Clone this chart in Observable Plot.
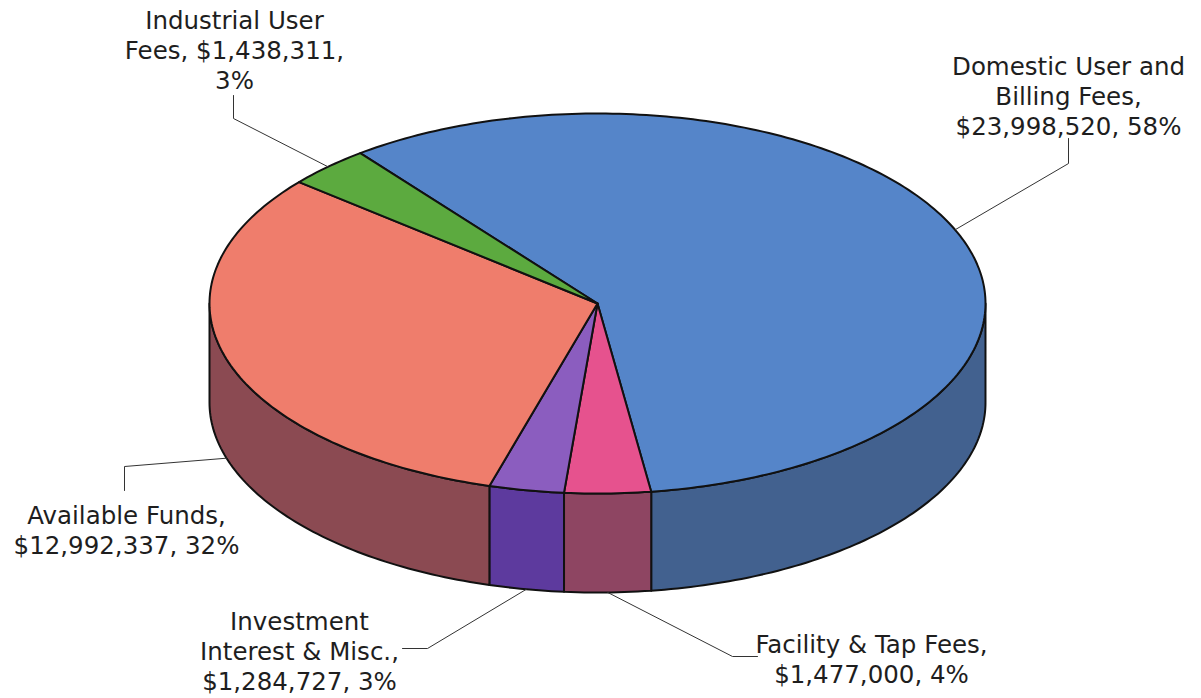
<!DOCTYPE html>
<html>
<head>
<meta charset="utf-8">
<script src="https://cdn.jsdelivr.net/npm/d3@7"></script>
<script src="https://cdn.jsdelivr.net/npm/@observablehq/plot@0.6"></script>
<style>
  html, body { margin: 0; padding: 0; background: #fff; }
  #chart svg { display: block; }
</style>
</head>
<body>
<div id="chart"></div>
<script>
// ---- data ----
const categories = [
  "Domestic User and Billing Fees",
  "Facility & Tap Fees",
  "Investment Interest & Misc.",
  "Available Funds",
  "Industrial User Fees"
];
const values = [23998520, 1477000, 1284727, 12992337, 1438311];
const labelTexts = [
  "Domestic User and\nBilling Fees,\n$23,998,520, 58%",
  "Facility & Tap Fees,\n$1,477,000, 4%",
  "Investment\nInterest & Misc.,\n$1,284,727, 3%",
  "Available Funds,\n$12,992,337, 32%",
  "Industrial User\nFees, $1,438,311,\n3%"
];

// ---- style / layout ----
const topColors  = ["#5585c9", "#e6528e", "#8b5dbf", "#ef7d6c", "#5caa3f"];
const sideColors = ["#42618f", "#8e4562", "#5d3a9e", "#8b4a52", "#3f7a2c"];
const geom = { cx: 597, cy: 303, rx: 388, ry: 190, depth: 99, startDeg: -127.7 };
// label text centre and leader line start/elbow (annotation layout)
const labelLayout = [
  { tx: 1068, ty: 95,  sx: 1068, sy: 138, ex: 1068, ey: 163 },
  { tx: 871,  ty: 658, sx: 757,  sy: 656, ex: 732,  ey: 656 },
  { tx: 299,  ty: 650, sx: 402,  sy: 648, ex: 427,  ey: 648 },
  { tx: 126,  ty: 529, sx: 124,  sy: 490, ex: 124,  ey: 466 },
  { tx: 234,  ty: 49,  sx: 233,  sy: 95,  ex: 233,  ey: 118 }
];

// ---- geometry from values ----
const total = d3.sum(values);
const rad = d => d * Math.PI / 180;
const P = (deg, dz = 0) => ({ x: geom.cx + geom.rx * Math.cos(rad(deg)), y: geom.cy + geom.ry * Math.sin(rad(deg)) + dz });
function arc(a, b, dz = 0) {
  const n = Math.max(2, Math.ceil(Math.abs(b - a)));
  return d3.range(n + 1).map(i => P(a + (b - a) * i / n, dz));
}
let acc = geom.startDeg;
const slices = values.map((v, i) => {
  const a = acc, b = acc + v / total * 360;
  acc = b;
  return { i, a, b, mid: (a + b) / 2 };
});

const marks = [];
// side faces (front half only)
slices.forEach(s => {
  for (const off of [-360, 0, 360]) {
    const lo = Math.max(s.a, off), hi = Math.min(s.b, off + 180);
    if (hi > lo) {
      const pts = arc(lo, hi, 0).concat(arc(hi, lo, geom.depth));
      marks.push(Plot.line(pts, { x: "x", y: "y", fill: sideColors[s.i], stroke: "#111", strokeWidth: 2, strokeLinejoin: "round", curve: "linear-closed" }));
    }
  }
});
// top faces
slices.forEach(s => {
  const pts = [{ x: geom.cx, y: geom.cy }].concat(arc(s.a, s.b, 0));
  marks.push(Plot.line(pts, { x: "x", y: "y", fill: topColors[s.i], stroke: "#111", strokeWidth: 2, strokeLinejoin: "round", curve: "linear-closed" }));
});
// leader lines
slices.forEach(s => {
  const front = Math.sin(rad(s.mid)) > 0;
  const end = P(s.mid, front ? geom.depth : 0);
  const L = labelLayout[s.i];
  const pts = [{ x: L.sx, y: L.sy }, { x: L.ex, y: L.ey }, end];
  marks.push(Plot.line(pts, { x: "x", y: "y", stroke: "#333", strokeWidth: 1 }));
});
// labels
const labelData = slices.map(s => ({ text: labelTexts[s.i], x: labelLayout[s.i].tx, y: labelLayout[s.i].ty }));
marks.push(Plot.text(labelData, {
  x: "x", y: "y", text: "text",
  fontSize: 24.5, fontFamily: "DejaVu Sans, Verdana, sans-serif",
  lineHeight: 1.22, lineAnchor: "middle", textAnchor: "middle", fill: "#1e1e1e"
}));

const chart = Plot.plot({
  width: 1201, height: 698,
  margin: 0,
  x: { domain: [0, 1201], range: [0, 1201], axis: null },
  y: { domain: [0, 698], range: [0, 698], axis: null },
  marks
});
document.getElementById("chart").appendChild(chart);
</script>
</body>
</html>
